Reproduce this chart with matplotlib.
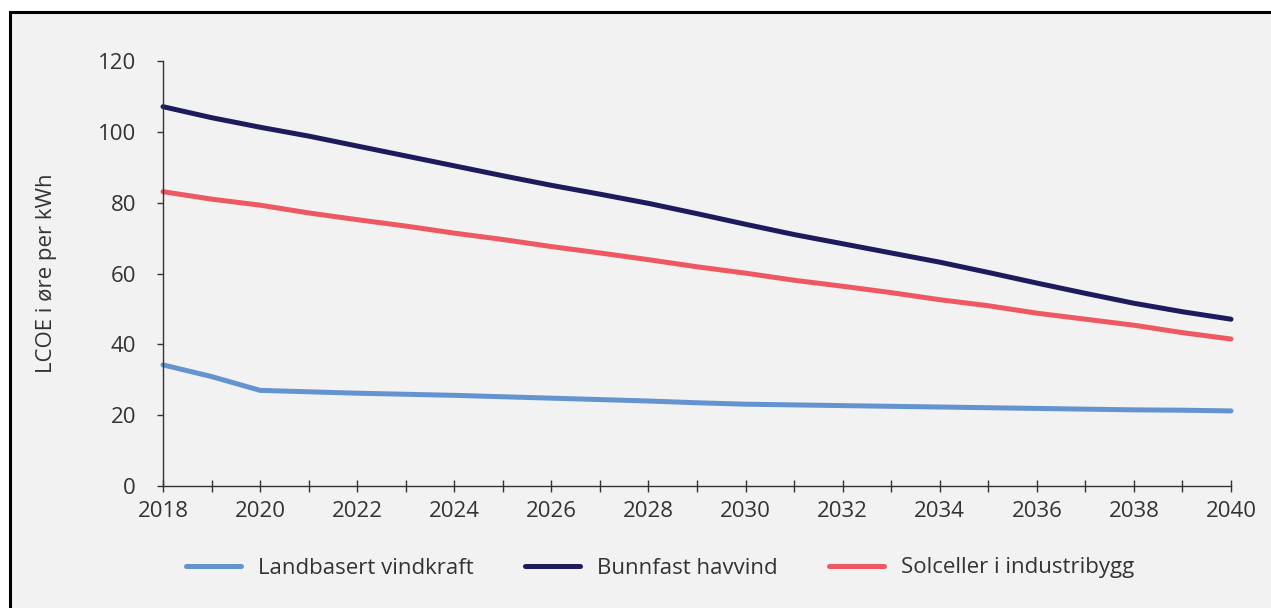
"""LCOE chart: land wind, offshore wind and solar on industrial buildings."""

import matplotlib

matplotlib.use("Agg")
import matplotlib.pyplot as plt
from matplotlib.patches import Rectangle

years = list(range(2018, 2041))

landbasert = [34.2, 30.9, 27.0, 26.6, 26.2, 25.9, 25.6, 25.2, 24.8, 24.4, 24.0, 23.5,
              23.1, 22.9, 22.7, 22.5, 22.3, 22.1, 21.9, 21.7, 21.5, 21.4, 21.2]
bunnfast = [107.1, 104.0, 101.3, 98.8, 96.0, 93.2, 90.4, 87.6, 84.9, 82.4, 79.8, 76.9,
            73.9, 71.0, 68.4, 65.8, 63.2, 60.3, 57.3, 54.4, 51.6, 49.2, 47.1]
solceller = [83.1, 81.0, 79.3, 77.1, 75.2, 73.4, 71.4, 69.6, 67.6, 65.8, 63.9, 61.9,
             60.1, 58.1, 56.4, 54.6, 52.6, 50.9, 48.8, 47.1, 45.4, 43.3, 41.5]

series_names = ["Landbasert vindkraft", "Bunnfast havvind", "Solceller i industribygg"]
series_colors = ["#6494d0", "#1d1b5c", "#ee5862"]

y_ticks = [0, 20, 40, 60, 80, 100, 120]
x_ticks_labelled = list(range(2018, 2041, 2))

plt.rcParams["font.family"] = ["Open Sans", "DejaVu Sans"]
text_color = "#333333"
fs = 16

W, H = 1271, 608
fig = plt.figure(figsize=(W / 100, H / 100), dpi=100)
fig.patch.set_facecolor("white")

# grey panel with black border on top and left (cut off on right / bottom)
panel = Rectangle((9.5 / W, -0.05), 1.1, 1 - 11.5 / H + 0.05,
                  transform=fig.transFigure, facecolor="#f2f2f2",
                  edgecolor="black", linewidth=2.2, zorder=-10)
fig.patches.append(panel)

ax = fig.add_axes([163 / W, 1 - 486 / H, (1231 - 163) / W, (486 - 61) / H])
ax.set_facecolor("none")

for vals, name, col in zip([landbasert, bunnfast, solceller], series_names, series_colors):
    ax.plot(years, vals, color=col, linewidth=3.6, label=name,
            solid_capstyle="round", solid_joinstyle="round", clip_on=False)

ax.set_xlim(2018, 2040)
ax.set_ylim(0, 120)
ax.set_yticks(y_ticks)
ax.set_xticks(years)
ax.set_xticklabels([str(y) if y in x_ticks_labelled else "" for y in years])

for side in ["top", "right"]:
    ax.spines[side].set_visible(False)
for side in ["left", "bottom"]:
    ax.spines[side].set_color(text_color)
    ax.spines[side].set_linewidth(1.0)

ax.tick_params(axis="x", direction="inout", length=8, width=1.0, colors=text_color,
               labelsize=fs, pad=6.5)
ax.tick_params(axis="y", direction="out", length=4.5, width=1.0, colors=text_color,
               labelsize=fs, pad=15)

ax.set_ylabel("LCOE i øre per kWh", fontsize=fs, color=text_color)
ax.yaxis.set_label_coords((57 - 163) / (1231 - 163), 0.5)

fig.legend(loc="center", bbox_to_anchor=(660 / W, 1 - 568 / H), ncol=3,
           frameon=False, fontsize=fs, handlelength=2.5, handletextpad=0.75,
           columnspacing=2.3, labelcolor=text_color)

fig.savefig("out.png", dpi=100)
